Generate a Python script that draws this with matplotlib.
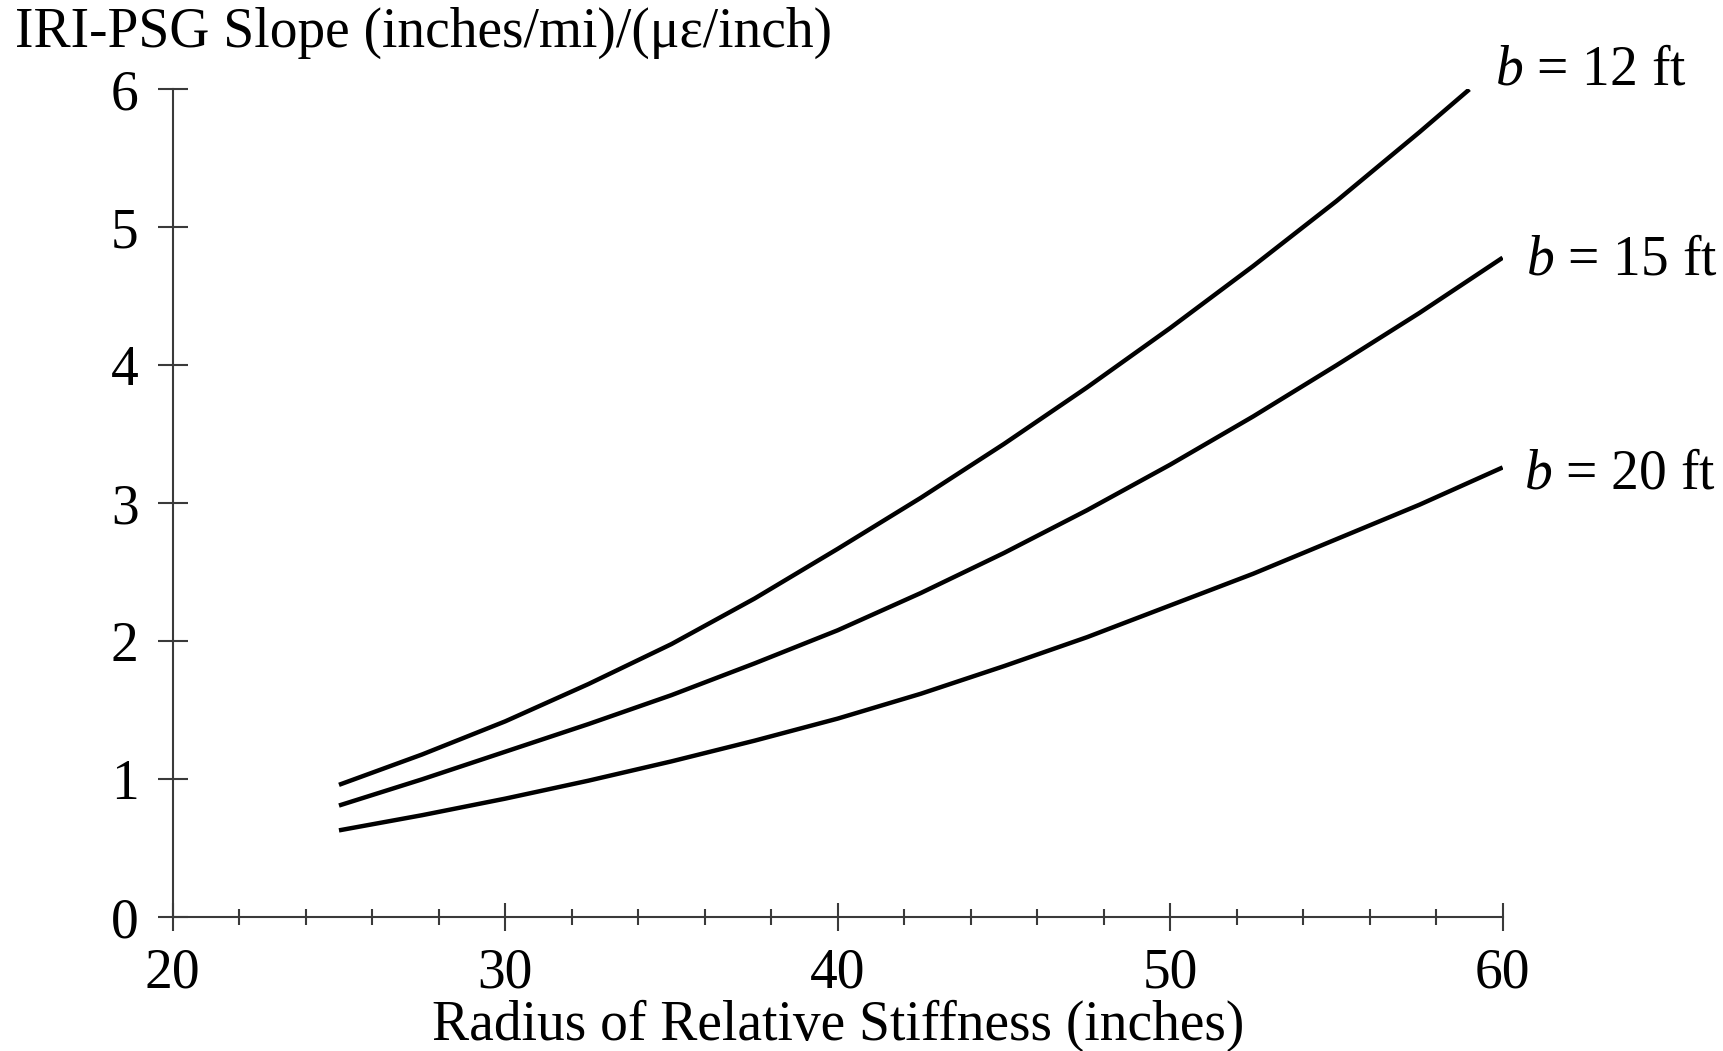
import numpy as np
import matplotlib
matplotlib.use('Agg')
import matplotlib.pyplot as plt

plt.rcParams['font.family'] = ['Liberation Serif', 'DejaVu Serif']
plt.rcParams['mathtext.fontset'] = 'custom'
plt.rcParams['mathtext.rm'] = 'Liberation Serif'
plt.rcParams['mathtext.it'] = 'Liberation Serif:italic'

# IRI-PSG slope vs radius of relative stiffness, one curve per slab width b
radius_12 = [25, 27.5, 30, 32.5, 35, 37.5, 40, 42.5, 45, 47.5, 50, 52.5, 55, 57.5, 59]
slope_12 = [0.96, 1.18, 1.42, 1.69, 1.98, 2.31, 2.67, 3.04, 3.43, 3.84, 4.27, 4.72, 5.19, 5.69, 6.0]

radius_15 = [25, 27.5, 30, 32.5, 35, 37.5, 40, 42.5, 45, 47.5, 50, 52.5, 55, 57.5, 60]
slope_15 = [0.81, 1.00, 1.20, 1.40, 1.61, 1.84, 2.08, 2.35, 2.64, 2.95, 3.28, 3.63, 4.00, 4.38, 4.78]

radius_20 = [25, 27.5, 30, 32.5, 35, 37.5, 40, 42.5, 45, 47.5, 50, 52.5, 55, 57.5, 60]
slope_20 = [0.63, 0.74, 0.86, 0.99, 1.13, 1.28, 1.44, 1.62, 1.82, 2.03, 2.26, 2.49, 2.74, 2.99, 3.26]

curve_labels = ['$b$ = 12 ft', '$b$ = 15 ft', '$b$ = 20 ft']
label_pos = [(59.77, 6.14), (60.70, 4.76), (60.64, 3.21)]

x_ticks = [20, 30, 40, 50, 60]
y_ticks = [0, 1, 2, 3, 4, 5, 6]

fig = plt.figure(figsize=(17.24, 10.51), dpi=100)
ax = fig.add_axes([0.1002, 0.1272, 0.7714, 0.7878])

for xs, ys in [(radius_12, slope_12), (radius_15, slope_15), (radius_20, slope_20)]:
    ax.plot(xs, ys, color='black', linewidth=3.2, solid_capstyle='butt',
            solid_joinstyle='round')

for text, (lx, ly) in zip(curve_labels, label_pos):
    ax.text(lx, ly, text, fontsize=40, ha='left', va='center', clip_on=False)

ax.set_xlim(20, 60)
ax.set_ylim(0, 6)
ax.set_xticks(x_ticks)
ax.set_xticks(np.arange(20, 61, 2), minor=True)
ax.set_yticks(y_ticks)

axis_color = '#3a3a3a'
for side in ['top', 'right']:
    ax.spines[side].set_visible(False)
for side in ['left', 'bottom']:
    ax.spines[side].set_color(axis_color)
    ax.spines[side].set_linewidth(1.5)

ax.tick_params(axis='x', which='major', direction='inout', length=20, width=1.5,
               color=axis_color, labelsize=40, pad=12)
ax.tick_params(axis='x', which='minor', direction='inout', length=12, width=1.5,
               color=axis_color)
ax.tick_params(axis='y', which='major', direction='inout', length=21, width=1.5,
               color=axis_color, labelsize=40, pad=14)

ax.set_xlabel('Radius of Relative Stiffness (inches)', fontsize=40, labelpad=0)
fig.text(15 / 1724, 1 - 33 / 1051, 'IRI-PSG Slope (inches/mi)/(\u03bc\u03b5/inch)',
         fontsize=40, ha='left', va='center')

fig.savefig('out.png', dpi=100, facecolor='white')
